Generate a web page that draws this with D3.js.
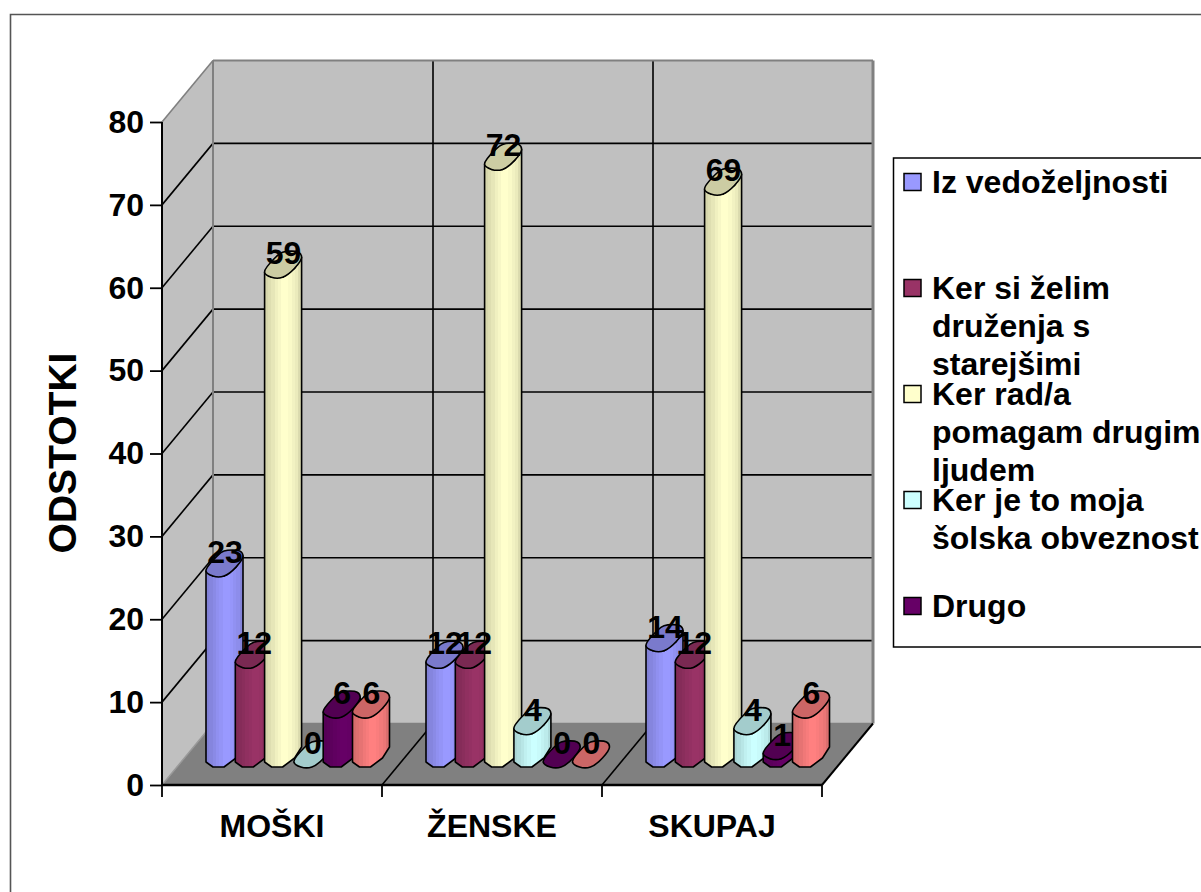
<!DOCTYPE html>
<html><head><meta charset="utf-8">
<script src="https://cdnjs.cloudflare.com/ajax/libs/d3/7.8.5/d3.min.js"></script>
<style>html,body{margin:0;padding:0;background:#fff}svg{display:block}text{font-family:"Liberation Sans",Arial,sans-serif;font-weight:bold;fill:#000}</style>
</head><body><svg id="c" width="1201" height="892"></svg>
<script>
const categories = ["MOŠKI","ŽENSKE","SKUPAJ"];
const seriesColors = ["#9999ff","#993366","#ffffcc","#ccffff","#660066","#ff8080"];
const valuesVedozeljnost = [23,12,14];
const valuesDruzenje = [12,12,12];
const valuesPomagam = [59,72,69];
const valuesObveznost = [0,4,4];
const valuesDrugo = [6,0,1];
const valuesSesti = [6,0,6];
const allSeries = [valuesVedozeljnost,valuesDruzenje,valuesPomagam,valuesObveznost,valuesDrugo,valuesSesti];
const yTicks = [0,10,20,30,40,50,60,70,80];
const legendEntries = [
 {c:0,y:182,lines:[["Iz vedoželjnosti",193]]},
 {c:1,y:288,lines:[["Ker si želim",299],["druženja s",337],["starejšimi",375]]},
 {c:2,y:394,lines:[["Ker rad/a",405],["pomagam drugim",443],["ljudem",481]]},
 {c:3,y:500,lines:[["Ker je to moja",511],["šolska obveznost",549]]},
 {c:4,y:606,lines:[["Drugo",617]]}
];
const svg = d3.select("#c");
const X0=162,X1=822,Y0=785,Y1=122,DX=51,DY=-61.5;
const yFront = d3.scaleLinear().domain([0,80]).range([Y0,Y1]);
const yBar = d3.scaleLinear().domain([0,80]).range([767,103]);
const xCat = d3.scaleBand().domain(categories).range([X0,X1]);
const xSer = d3.scaleLinear().domain([0,1]).range([44,73.3]);
const defs = svg.append("defs");
const bands=[.84,.87,.9,.94,.97,1,1,.98,.95,.92,.86];
seriesColors.forEach((c,i)=>{
  const g=defs.append("linearGradient").attr("id","g"+i);
  const base=d3.rgb(c);
  const mix=k=>d3.rgb(base.r*k,base.g*k,base.b*k).formatHex();
  bands.forEach((k,j)=>{
    g.append("stop").attr("offset",j/bands.length).attr("stop-color",mix(k));
    g.append("stop").attr("offset",(j+1)/bands.length).attr("stop-color",mix(k));
  });
});
// outer frame
svg.append("path").attr("d","M1201,14.5H10.5V892").attr("fill","none").attr("stroke","#555").attr("stroke-width",1.6);
// walls
const poly=(pts,fill)=>svg.append("polygon").attr("points",pts.map(p=>p.join(",")).join(" ")).attr("fill",fill);
poly([[X0,Y1],[X0+DX,Y1+DY],[X0+DX,Y0+DY],[X0,Y0]],"#c0c0c0");
poly([[X0+DX,Y1+DY],[X1+DX,Y1+DY],[X1+DX,Y0+DY],[X0+DX,Y0+DY]],"#c0c0c0");
poly([[X0,Y0],[X1,Y0],[X1+DX,Y0+DY],[X0+DX,Y0+DY]],"#808080");
const line=(a,b,c,w)=>svg.append("line").attr("x1",a[0]).attr("y1",a[1]).attr("x2",b[0]).attr("y2",b[1]).attr("stroke",c).attr("stroke-width",w);
yTicks.forEach(t=>{
  const y=yFront(t);
  if(t>0&&t<80){ line([X0,y],[X0+DX,y+DY],"#000",1.6); line([X0+DX,y+DY],[X1+DX,y+DY],"#000",1.6); }
});
[1,2].forEach(i=>{
  const x=xCat(categories[i]);
  line([x+DX,Y1+DY],[x+DX,Y0+DY],"#000",1.6);
  line([x,Y0],[x+DX,Y0+DY],"#000",1.6);
});
// wall edges
line([X0,Y1],[X0+DX,Y1+DY],"#808080",1.6);
line([X0+DX,Y1+DY],[X1+DX,Y1+DY],"#808080",2);
line([X0+DX,Y1+DY],[X0+DX,Y0+DY],"#808080",2);
line([X1+DX,Y1+DY],[X1+DX,Y0+DY],"#808080",3);
line([X0+DX,Y0+DY],[X1+DX,Y0+DY],"#808080",1.5);
line([X0,Y0],[X0+DX,Y0+DY],"#999",1.5);
line([X1,Y0],[X1+DX,Y0+DY],"#000",2);
// axes
const axL=svg.append("g").attr("transform",`translate(${X0},0)`).call(d3.axisLeft(yFront).tickValues(yTicks).tickSize(12).tickPadding(6));
axL.select(".domain").attr("stroke","#000").attr("stroke-width",2).attr("d",`M0,${Y1}V${Y0}`);
axL.selectAll("line").attr("stroke","#000").attr("stroke-width",1.8);
axL.selectAll("text").style("font-size","32px").style("font-family",'"Liberation Sans"').style("font-weight","bold");
const tickPos=[...categories.map(c=>xCat(c)),X1];
line([X0,Y0],[X1,Y0],"#000",2.5);
tickPos.forEach(x=>line([x,Y0],[x,Y0+12],"#000",1.8));
categories.forEach(c=>svg.append("text").attr("x",xCat(c)+xCat.bandwidth()/2).attr("y",837).attr("text-anchor","middle").style("font-size","32px").text(c));
svg.append("text").attr("transform","translate(76,453) rotate(-90)").attr("text-anchor","middle").style("font-size","39px").text("ODSTOTKI");
// cylinders
const W=37;
const ring=[[0,-5],[11,-20],[18,-25],[34,-25],[37,-20],[30,-9],[18,0],[7,0]];
const ringLine=d3.line().curve(d3.curveCatmullRomClosed.alpha(0.5));
const drawBar=(si,ci,v)=>{
  const x0=xCat(categories[ci])+xSer(si), yt=yBar(v), yb=yBar(0);
  const fmt=p=>p.map(q=>q.join(",")).join(" ");
  if(v>0){
    const body=[[x0,yt-5],[x0,yb-5],[x0+7,yb],[x0+18,yb],[x0+30,yb-9],[x0+W,yb-20],[x0+W,yt-20],[x0+30,yt-9],[x0+18,yt],[x0+7,yt]];
    svg.append("polygon").attr("points",fmt(body)).attr("fill",`url(#g${si})`).attr("stroke","#000").attr("stroke-width",1.6).attr("stroke-linejoin","round");
  }
  const b=d3.rgb(seriesColors[si]);
  svg.append("path").attr("d",ringLine(ring.map(p=>[x0+p[0],yt+p[1]]))).attr("fill",d3.rgb(b.r*.8,b.g*.8,b.b*.8).formatHex()).attr("stroke","#000").attr("stroke-width",1.6).attr("stroke-linejoin","round");
};
categories.forEach((c,ci)=>allSeries.forEach((vals,si)=>drawBar(si,ci,vals[ci])));
categories.forEach((c,ci)=>allSeries.forEach((vals,si)=>{
  svg.append("text").attr("x",xCat(c)+xSer(si)+19).attr("y",yBar(vals[ci])-13).attr("text-anchor","middle").style("font-size","32px").text(vals[ci]);
}));
// legend
svg.append("rect").attr("x",893.5).attr("y",158).attr("width",320).attr("height",489).attr("fill","#fff").attr("stroke","#000").attr("stroke-width",1.5);
legendEntries.forEach(e=>{
  svg.append("rect").attr("x",904).attr("y",e.y-8.5).attr("width",17).attr("height",17).attr("fill",seriesColors[e.c]).attr("stroke","#000").attr("stroke-width",1.5);
  e.lines.forEach(([t,y])=>svg.append("text").attr("x",932).attr("y",y).style("font-size","32px").text(t));
});
</script></body></html>
